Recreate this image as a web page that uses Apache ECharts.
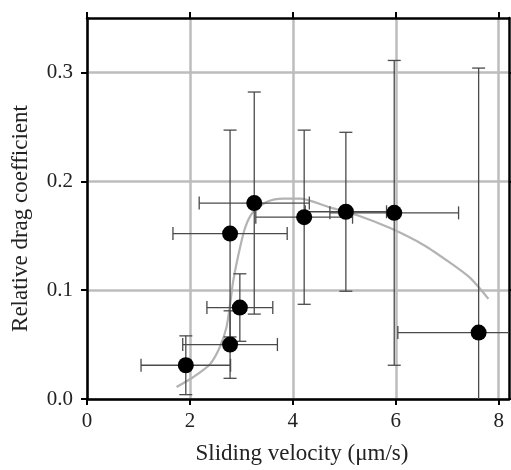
<!DOCTYPE html>
<html>
<head>
    <meta charset='utf-8'>
    <script src="https://cdn.jsdelivr.net/npm/echarts@6/dist/echarts.min.js"></script>
</head>
<body>
<style>
    html, body, #main {
        width: 100%;
        height: 100%;
        margin: 0;
        padding: 0;
        background: #fff;
    }
</style>
<div id="main"></div>
<script>
    // measured points (sliding velocity, relative drag) with half-width errors
    var velocity = [1.92, 2.78, 2.97, 2.78, 3.25, 4.22, 5.03, 5.97, 7.61];
    var drag = [0.031, 0.050, 0.084, 0.152, 0.180, 0.167, 0.172, 0.171, 0.061];
    var velErr = [0.87, 0.92, 0.64, 1.11, 1.07, 0.94, 0.79, 1.25, 1.57];
    var dragErr = [0.027, 0.031, 0.031, 0.095, 0.102, 0.080, 0.073, 0.140, 0.243];

    // fitted curve
    var fitX = [1.74, 2.06, 2.39, 2.58, 2.71, 2.78, 2.84, 2.94, 3.07, 3.23, 3.49, 3.81, 4.14, 4.72, 5.24, 5.89, 6.54, 7.06, 7.45, 7.8];
    var fitY = [0.011, 0.020, 0.032, 0.0475, 0.066, 0.087, 0.108, 0.132, 0.157, 0.172, 0.181, 0.184, 0.184, 0.176, 0.169, 0.157, 0.1415, 0.125, 0.111, 0.092];

    var xTicks = [0, 2, 4, 6, 8];
    var yTicks = [0, 0.1, 0.2, 0.3];

    var chart = echarts.init(document.getElementById('main'));

    var font = 'Liberation Serif';
    var points = velocity.map(function (v, i) { return [v, drag[i]]; });
    var errData = velocity.map(function (v, i) {
        return [v, drag[i], velErr[i], dragErr[i]];
    });
    var fitData = fitX.map(function (v, i) { return [v, fitY[i]]; });

    function clamp(a, lo, hi) { return Math.max(lo, Math.min(hi, a)); }

    function renderErr(params, api) {
        var cs = params.coordSys;
        var x = api.value(0), y = api.value(1), ex = api.value(2), ey = api.value(3);
        var c = api.coord([x, y]);
        var l = api.coord([x - ex, y]), r = api.coord([x + ex, y]);
        var t = api.coord([x, y + ey]), b = api.coord([x, y - ey]);
        var x0 = cs.x, x1 = cs.x + cs.width, y0 = cs.y, y1 = cs.y + cs.height;
        var st = {stroke: '#4a4a4a', lineWidth: 1.3};
        var kids = [];
        var cap = 6.5;
        kids.push({type: 'line', shape: {x1: clamp(l[0], x0, x1), y1: c[1], x2: clamp(r[0], x0, x1), y2: c[1]}, style: st});
        kids.push({type: 'line', shape: {x1: c[0], y1: clamp(t[1], y0, y1), x2: c[0], y2: clamp(b[1], y0, y1)}, style: st});
        if (l[0] >= x0) kids.push({type: 'line', shape: {x1: l[0], y1: c[1] - cap, x2: l[0], y2: c[1] + cap}, style: st});
        if (r[0] <= x1) kids.push({type: 'line', shape: {x1: r[0], y1: c[1] - cap, x2: r[0], y2: c[1] + cap}, style: st});
        if (t[1] >= y0) kids.push({type: 'line', shape: {x1: c[0] - cap, y1: t[1], x2: c[0] + cap, y2: t[1]}, style: st});
        if (b[1] <= y1) kids.push({type: 'line', shape: {x1: c[0] - cap, y1: b[1], x2: c[0] + cap, y2: b[1]}, style: st});
        return {type: 'group', children: kids};
    }

    var axisLine = {show: true, onZero: false, lineStyle: {color: '#000', width: 2.5}};
    var tick = {show: true, length: 6, lineStyle: {color: '#000', width: 2}};

    chart.setOption({
        animation: false,
        grid: {left: 87, right: 2, top: 18, bottom: 68},
        xAxis: [{
            type: 'value',
            min: 0, max: 8.2, interval: 2,
            name: 'Sliding velocity (\u03bcm/s)',
            nameLocation: 'middle',
            nameGap: 43,
            nameTextStyle: {fontFamily: font, fontSize: 23, color: '#222', padding: [0, 0, 0, 8]},
            axisLine: axisLine,
            axisTick: Object.assign({customValues: xTicks}, tick),
            axisLabel: {customValues: xTicks, margin: 12, fontFamily: font, fontSize: 21, color: '#222'},
            splitLine: {show: true, lineStyle: {color: '#bdbdbd', width: 2.5}}
        }, {
            type: 'value',
            position: 'top',
            min: 0, max: 8.2, interval: 2,
            axisLine: axisLine,
            axisTick: Object.assign({customValues: xTicks}, tick),
            axisLabel: {show: false},
            splitLine: {show: false}
        }],
        yAxis: [{
            type: 'value',
            min: 0, max: 0.35, interval: 0.1,
            name: 'Relative drag coefficient',
            nameLocation: 'middle',
            nameGap: 55,
            nameTextStyle: {fontFamily: font, fontSize: 23, color: '#222', padding: [0, 20, 0, 0]},
            axisLine: axisLine,
            axisTick: Object.assign({customValues: yTicks}, tick),
            axisLabel: {
                customValues: yTicks, margin: 14, fontFamily: font, fontSize: 21, color: '#222',
                formatter: function (v) { return v.toFixed(1); }
            },
            splitLine: {show: true, lineStyle: {color: '#bdbdbd', width: 2.5}}
        }, {
            type: 'value',
            position: 'right',
            min: 0, max: 0.35, interval: 0.1,
            axisLine: axisLine,
            axisTick: Object.assign({customValues: yTicks}, tick),
            axisLabel: {show: false},
            splitLine: {show: false}
        }],
        series: [{
            name: 'fit',
            type: 'line',
            data: fitData,
            smooth: 0.25,
            showSymbol: false,
            lineStyle: {color: '#b3b3b3', width: 2.2},
            z: 2
        }, {
            name: 'errors',
            type: 'custom',
            data: errData,
            renderItem: renderErr,
            z: 3
        }, {
            name: 'data',
            type: 'scatter',
            data: points,
            symbol: 'circle',
            symbolSize: 16,
            itemStyle: {color: '#000', opacity: 1},
            z: 4
        }]
    });
</script>
</body>
</html>
